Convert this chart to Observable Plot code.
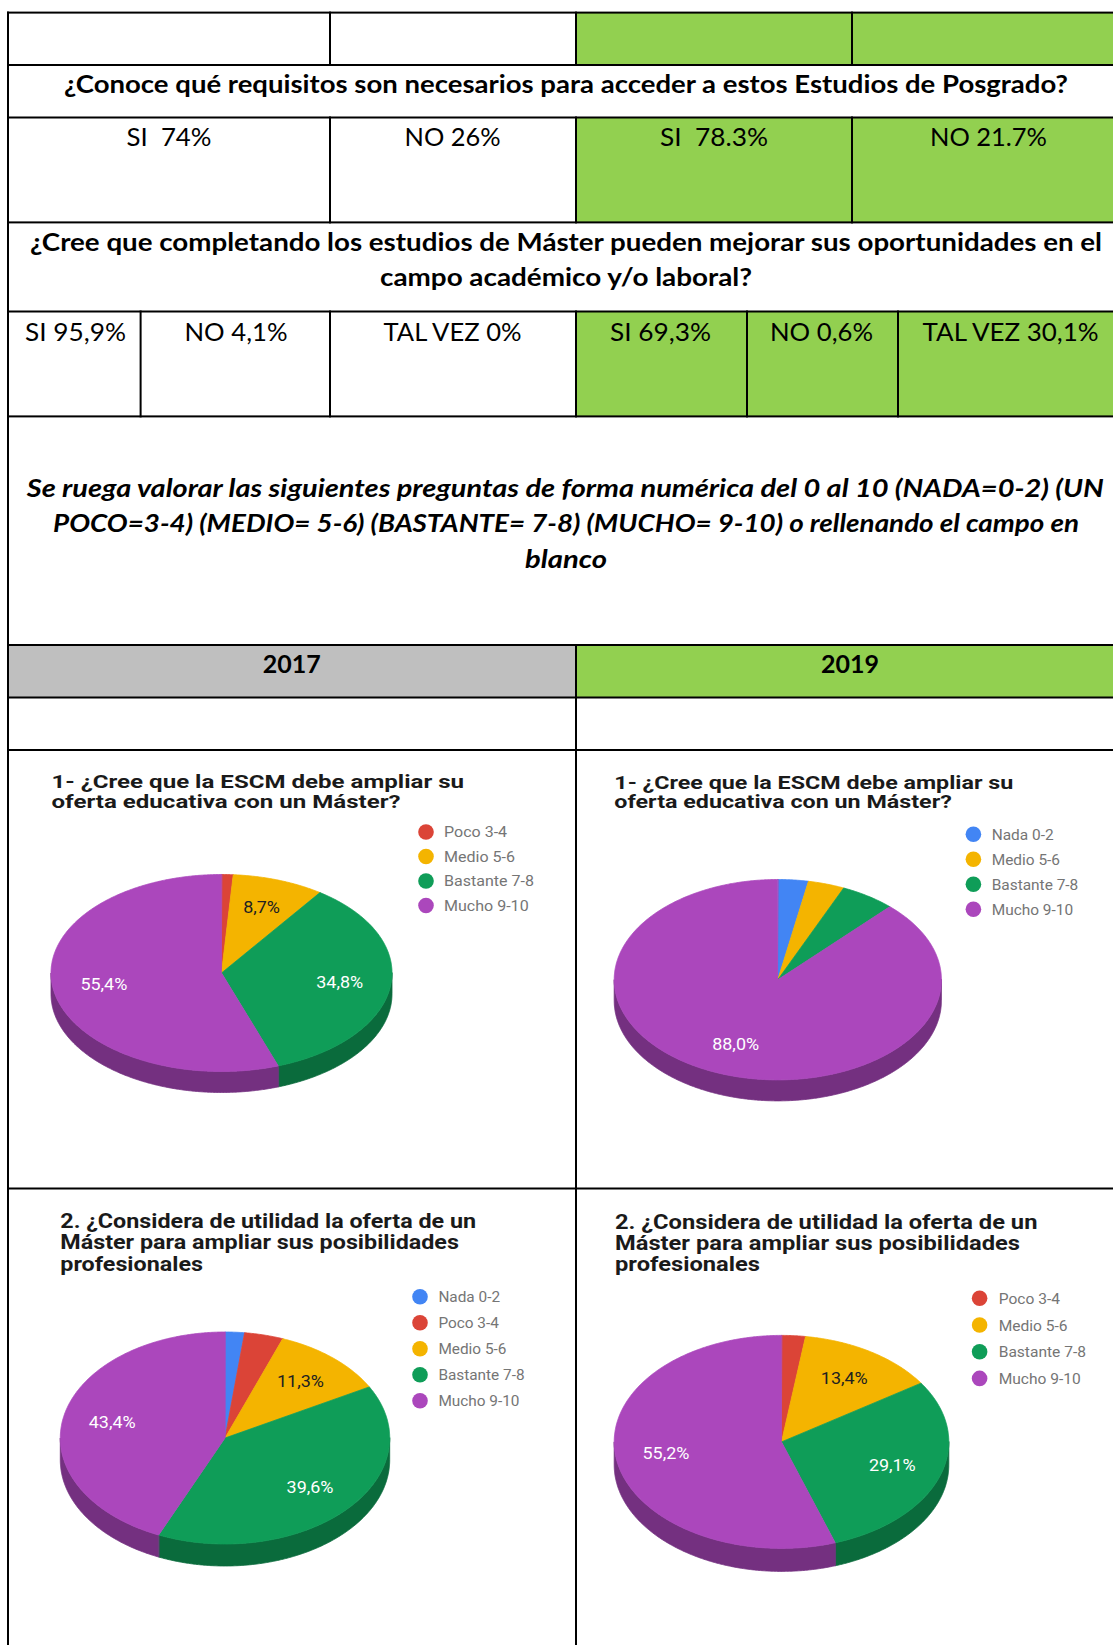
<!DOCTYPE html>
<html lang="es">
<head>
<meta charset="utf-8">
<script src="https://cdn.jsdelivr.net/npm/d3@7"></script>
<script src="https://cdn.jsdelivr.net/npm/@observablehq/plot@0.6"></script>
<style>
html, body { margin:0; padding:0; background:#fff; }
body { width:1113px; height:1645px; overflow:hidden; }
#page { position:relative; width:1113px; height:1645px; overflow:hidden; }
#page > svg { position:absolute; left:0; top:0; }
.pie { position:absolute; }
</style>
</head>
<body>
<div id="page"></div>
<script>
// ---------------- DATA ----------------
const question1 = "¿Conoce qué requisitos son necesarios para acceder a estos Estudios de Posgrado?";
const q1Labels2017 = ["SI  74%", "NO 26%"];
const q1Labels2019 = ["SI  78.3%", "NO 21.7%"];
const question2Lines = [
  "¿Cree que completando los estudios de Máster pueden mejorar sus oportunidades en el",
  "campo académico y/o laboral?"
];
const q2Labels2017 = ["SI 95,9%", "NO 4,1%", "TAL VEZ 0%"];
const q2Labels2019 = ["SI 69,3%", "NO 0,6%", "TAL VEZ 30,1%"];
const instructionLines = [
  "Se ruega valorar las siguientes preguntas de forma numérica del 0 al 10 (NADA=0-2) (UN",
  "POCO=3-4) (MEDIO= 5-6) (BASTANTE= 7-8) (MUCHO= 9-10) o rellenando el campo en",
  "blanco"
];
const years = ["2017", "2019"];

const categories = ["Nada 0-2", "Poco 3-4", "Medio 5-6", "Bastante 7-8", "Mucho 9-10"];
const categoryColors = ["#4285f4", "#db4437", "#f4b400", "#0f9d58", "#ab47bc"];
const chart1Title = ["1- ¿Cree que la ESCM debe ampliar su", "oferta educativa con un Máster?"];
const chart2Title = ["2. ¿Considera de utilidad la oferta de un", "Máster para ampliar sus posibilidades", "profesionales"];
const chart1Values2017 = [null, 1.1, 8.7, 34.8, 55.4];
const chart1Values2019 = [3.0, null, 3.6, 5.4, 88.0];
const chart2Values2017 = [1.9, 3.8, 11.3, 39.6, 43.4];
const chart2Values2019 = [null, 2.3, 13.4, 29.1, 55.2];
const labelMin = 7; // slices smaller than this show no percentage label

// ---------------- LAYOUT ----------------
const W = 1113, H = 1645, TL = 8, TR = 1123;
const rowLines = [12.6, 65, 117.5, 222.4, 311.5, 416.4, 645, 697.5, 750, 1188.5];
const GREEN = "#92d050", GRAY = "#bfbfbf";
const tableFont = "Lato, 'Open Sans', sans-serif";
const chartFont = "Roboto, 'Liberation Sans', Arial, sans-serif";

const page = d3.select("#page");
const svg = page.append("svg").attr("width", W).attr("height", H);

// fills
const fills = [
  [576, rowLines[0], TR - 576, rowLines[1] - rowLines[0], GREEN],
  [576, rowLines[2], TR - 576, rowLines[3] - rowLines[2], GREEN],
  [576, rowLines[4], TR - 576, rowLines[5] - rowLines[4], GREEN],
  [576, rowLines[6], TR - 576, rowLines[7] - rowLines[6], GREEN],
  [TL, rowLines[6], 576 - TL, rowLines[7] - rowLines[6], GRAY]
];
svg.append("g").selectAll("rect").data(fills).join("rect")
  .attr("x", d => d[0]).attr("y", d => d[1]).attr("width", d => d[2]).attr("height", d => d[3]).attr("fill", d => d[4]);

// lines
const lw = 2;
const gl = svg.append("g").attr("fill", "#000");
rowLines.forEach(y => gl.append("rect").attr("x", TL - lw/2).attr("y", y - lw/2).attr("width", TR - TL + lw).attr("height", lw));
const vlines = [
  [TL, rowLines[0], H],
  [330, rowLines[0], rowLines[1]], [576, rowLines[0], rowLines[1]], [852, rowLines[0], rowLines[1]],
  [330, rowLines[2], rowLines[3]], [576, rowLines[2], rowLines[3]], [852, rowLines[2], rowLines[3]],
  [140.6, rowLines[4], rowLines[5]], [330, rowLines[4], rowLines[5]], [576, rowLines[4], rowLines[5]],
  [747, rowLines[4], rowLines[5]], [898, rowLines[4], rowLines[5]],
  [576, rowLines[6], H]
];
vlines.forEach(([x, y0, y1]) => gl.append("rect").attr("x", x - lw/2).attr("y", y0 - lw/2).attr("width", lw).attr("height", y1 - y0 + lw));

// table texts
const tableTexts = [
  {text: question1, x: 566, y: 93, w: 1004, weight: 700},
  {text: q1Labels2017[0], x: 169, y: 146, w: 85},
  {text: q1Labels2017[1], x: 452.5, y: 146, w: 96},
  {text: q1Labels2019[0], x: 714, y: 146, w: 108},
  {text: q1Labels2019[1], x: 988.5, y: 146, w: 117},
  {text: question2Lines[0], x: 566, y: 251, w: 1072, weight: 700},
  {text: question2Lines[1], x: 566, y: 285.5, w: 372, weight: 700},
  {text: q2Labels2017[0], x: 75.5, y: 341, w: 101},
  {text: q2Labels2017[1], x: 236, y: 341, w: 103},
  {text: q2Labels2017[2], x: 452.5, y: 341, w: 138},
  {text: q2Labels2019[0], x: 660.5, y: 341, w: 101},
  {text: q2Labels2019[1], x: 821.5, y: 341, w: 103},
  {text: q2Labels2019[2], x: 1010.6, y: 341, w: 176},
  {text: instructionLines[0], x: 565.3, y: 497, w: 1077, weight: 700, style: "italic"},
  {text: instructionLines[1], x: 566, y: 532, w: 1026, weight: 700, style: "italic"},
  {text: instructionLines[2], x: 566, y: 568, w: 82, weight: 700, style: "italic"},
  {text: years[0], x: 291.7, y: 673, w: 58, weight: 700},
  {text: years[1], x: 850, y: 673, w: 58, weight: 700}
];
const gt = svg.append("g").attr("font-family", tableFont).attr("font-size", 25).attr("fill", "#000").attr("text-anchor", "middle");
const tableTextEls = tableTexts.map(t => gt.append("text")
  .attr("x", t.x).attr("y", t.y)
  .attr("font-weight", t.weight || 400).attr("font-style", t.style || "normal")
  .style("white-space", "pre").text(t.text));
tableTextEls.forEach((el, i) => el.attr("textLength", tableTexts[i].w).attr("lengthAdjust", "spacingAndGlyphs"));

// ---------------- PIE PANELS ----------------
const panels = [
  {values: chart1Values2017, title: chart1Title, box: [9, 751, 566, 437],
   titleX: 51.5, titleY: 788, titleLH: 19.8, titleSize: 19, titleW: 412.6,
   legX: 426, legY: 832, legStep: 24.5, legTextX: 444, legW: 90, legSize: 14.5, dotR: 7.8,
   cx: 221, cy: 972.5, rx: 170.5, ry: 98.5, depth: 21},
  {values: chart1Values2019, title: chart1Title, box: [577, 751, 536, 437],
   titleX: 614.3, titleY: 788.5, titleLH: 19.6, titleSize: 18.6, titleW: 399,
   legX: 973.4, legY: 834.3, legStep: 25, legTextX: 991.7, legW: 86.6, legSize: 14.5, dotR: 7.8,
   cx: 777.3, cy: 979.2, rx: 163.6, ry: 100.2, depth: 21},
  {values: chart2Values2017, title: chart2Title, box: [9, 1189.5, 566, 456],
   titleX: 60.3, titleY: 1228, titleLH: 21.3, titleSize: 20, titleW: 415.8,
   legX: 420, legY: 1296.7, legStep: 26, legTextX: 438.4, legW: 86.2, legSize: 15.5, dotR: 7.8,
   cx: 224.5, cy: 1437, rx: 164.7, ry: 106, depth: 22},
  {values: chart2Values2019, title: chart2Title, box: [577, 1189.5, 536, 456],
   titleX: 615, titleY: 1228.5, titleLH: 21.3, titleSize: 20, titleW: 422.4,
   legX: 979.6, legY: 1298.3, legStep: 26.7, legTextX: 998.7, legW: 87.3, legSize: 15.5, dotR: 7.8,
   cx: 781, cy: 1440.9, rx: 167.3, ry: 106.5, depth: 23}
];

const sideSuffix = " (lado)";
const darken = c => { const k = d3.rgb(c); return d3.rgb(k.r * 0.68, k.g * 0.68, k.b * 0.68).formatHex(); };
const colorDomain = categories.concat(categories.map(c => c + sideSuffix));
const colorRange = categoryColors.concat(categoryColors.map(darken));
const fmt = v => v.toFixed(1).replace(".", ",") + "%";

const gTitles = svg.append("g").attr("font-family", chartFont);

panels.forEach(p => {
  // title
  const titleEls = p.title.map((line, i) => gTitles.append("text")
    .attr("x", p.titleX).attr("y", p.titleY + i * p.titleLH)
    .attr("font-size", p.titleSize).attr("font-weight", 700).attr("fill", "#1a1a1a").text(line));
  const s = p.titleW / titleEls[0].node().getComputedTextLength();
  titleEls.forEach(el => el.attr("textLength", el.node().getComputedTextLength() * s).attr("lengthAdjust", "spacingAndGlyphs"));

  // legend
  const items = categories.map((c, i) => ({category: c, color: categoryColors[i], value: p.values[i]})).filter(d => d.value != null);
  const legEls = items.map((d, i) => {
    gTitles.append("circle").attr("cx", p.legX).attr("cy", p.legY + i * p.legStep).attr("r", p.dotR).attr("fill", d.color);
    return gTitles.append("text").attr("x", p.legTextX).attr("y", p.legY + i * p.legStep).attr("dy", "0.36em")
      .attr("font-size", p.legSize).attr("fill", "#757575").text(d.category);
  });
  const ref = legEls[items.findIndex(d => d.category === "Bastante 7-8")];
  const ls = p.legW / ref.node().getComputedTextLength();
  legEls.forEach(el => el.attr("textLength", el.node().getComputedTextLength() * ls).attr("lengthAdjust", "spacingAndGlyphs"));

  // pie geometry from values
  const total = d3.sum(items, d => d.value);
  let acc = 0;
  for (const d of items) { d.a0 = acc / total * 2 * Math.PI; acc += d.value; d.a1 = acc / total * 2 * Math.PI; }
  const dz = p.depth / p.ry;
  const step = Math.PI / 360;
  const ring = (a0, a1, off) => {
    const n = Math.max(1, Math.ceil((a1 - a0) / step));
    return d3.range(n + 1).map(k => { const a = a0 + (a1 - a0) * k / n; return [Math.sin(a), -Math.cos(a) + off]; });
  };
  const tops = [], sides = [];
  items.forEach((d, i) => {
    [[0, 0], ...ring(d.a0, d.a1, 0)].forEach(([x, y]) => tops.push({key: "t" + i, category: d.category, x, y}));
    const lo = Math.max(d.a0, Math.PI / 2), hi = Math.min(d.a1, 3 * Math.PI / 2);
    if (hi > lo) {
      [...ring(lo, hi, 0), ...ring(lo, hi, dz).reverse()].forEach(([x, y]) => sides.push({key: "s" + i, category: d.category + sideSuffix, x, y}));
    }
  });
  const labels = items.filter(d => d.value >= labelMin).map(d => {
    const m = (d.a0 + d.a1) / 2;
    return {x: 0.7 * Math.sin(m), y: -0.7 * Math.cos(m), text: fmt(d.value), dark: d3.lab(d.color).l > 65};
  });

  const [bx, by, bw, bh] = p.box;
  const plot = Plot.plot({
    width: bw, height: bh, margin: 0,
    style: {background: "transparent", overflow: "visible"},
    x: {domain: [(bx - p.cx) / p.rx, (bx + bw - p.cx) / p.rx], range: [0, bw], axis: null},
    y: {domain: [(by - p.cy) / p.ry, (by + bh - p.cy) / p.ry], range: [0, bh], axis: null},
    color: {domain: colorDomain, range: colorRange},
    marks: [
      Plot.line(sides, {x: "x", y: "y", z: "key", fill: "category", stroke: "category", strokeWidth: 0.8, curve: "linear-closed"}),
      Plot.line(tops, {x: "x", y: "y", z: "key", fill: "category", stroke: "category", strokeWidth: 0.8, curve: "linear-closed"}),
      Plot.text(labels.filter(d => !d.dark), {x: "x", y: "y", text: "text", fill: "#ffffff", fontSize: 16, fontFamily: chartFont}),
      Plot.text(labels.filter(d => d.dark), {x: "x", y: "y", text: "text", fill: "#212121", fontSize: 16, fontFamily: chartFont})
    ]
  });
  const holder = page.append("div").attr("class", "pie").style("left", bx + "px").style("top", by + "px").style("width", bw + "px").style("height", bh + "px");
  holder.node().appendChild(plot);
  plot.querySelectorAll("text").forEach(t => {
    const len = t.getComputedTextLength();
    t.setAttribute("textLength", len * 1.12);
    t.setAttribute("lengthAdjust", "spacingAndGlyphs");
  });
});
</script>
</body>
</html>
